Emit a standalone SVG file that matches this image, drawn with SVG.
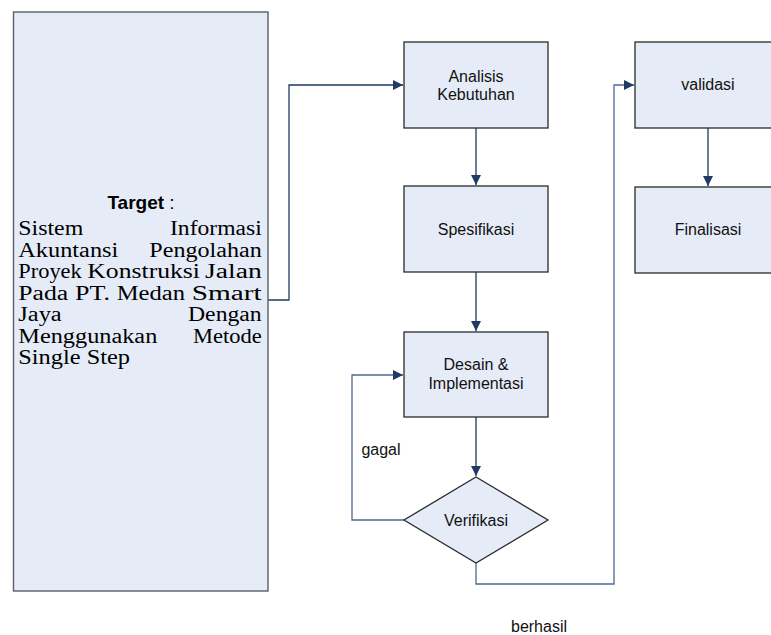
<svg xmlns="http://www.w3.org/2000/svg" width="771" height="635" viewBox="0 0 771 635">
<style>
.box{fill:#E6ECF7;stroke:#2a2a2a;stroke-width:1.3}
.tbox{fill:#E6ECF7;stroke:#5a5e66;stroke-width:1.4}
.lbl{font-family:"Liberation Sans",Arial,sans-serif;font-size:16px;fill:#111;text-anchor:middle}
.tr{font-family:"Liberation Serif","Times New Roman",serif;font-size:20.5px;fill:#000}
.c{fill:none;stroke:#1F3A64;stroke-width:1.3}
.c2{fill:none;stroke:#4D6A94;stroke-width:1.3}
</style>
<defs>
<marker id="ah" viewBox="0 0 10 10" refX="10" refY="5" markerWidth="10" markerHeight="10" markerUnits="userSpaceOnUse" orient="auto">
<path d="M0,0 L10,5 L0,10 z" fill="#1F3A64"/>
</marker>
</defs>
<rect width="771" height="635" fill="#fff"/>
<g id="connectors">
<polyline class="c" points="268,300 289,300 289,85 403,85" marker-end="url(#ah)"/>
<line class="c" x1="476" y1="128" x2="476" y2="185" marker-end="url(#ah)"/>
<line class="c" x1="476" y1="272" x2="476" y2="331" marker-end="url(#ah)"/>
<line class="c" x1="476" y1="417" x2="476" y2="476" marker-end="url(#ah)"/>
<polyline class="c2" points="404,520 352,520 352,375 403,375" marker-end="url(#ah)"/>
<polyline class="c2" points="476,563 476,584 614,584 614,85 634,85" marker-end="url(#ah)"/>
<line class="c" x1="708" y1="128" x2="708" y2="186" marker-end="url(#ah)"/>
<text class="lbl" x="381" y="455">gagal</text>
<text class="lbl" x="539" y="632">berhasil</text>
</g>
<g id="target">
<rect class="tbox" x="13.5" y="12" width="254.5" height="579"/>
<text x="141" y="209" font-family="Liberation Sans,Arial,sans-serif" font-size="19" text-anchor="middle" fill="#000"><tspan font-weight="bold">Target</tspan> :</text>
<text class="tr" x="18.3" y="235" textLength="65" lengthAdjust="spacingAndGlyphs">Sistem</text>
<text class="tr" x="170" y="235" textLength="91.7" lengthAdjust="spacingAndGlyphs">Informasi</text>
<text class="tr" x="18.3" y="257" textLength="100" lengthAdjust="spacingAndGlyphs">Akuntansi</text>
<text class="tr" x="149.3" y="257" textLength="112.4" lengthAdjust="spacingAndGlyphs">Pengolahan</text>
<text class="tr" x="18.3" y="278" textLength="63.4" lengthAdjust="spacingAndGlyphs">Proyek</text>
<text class="tr" x="87.3" y="278" textLength="112.7" lengthAdjust="spacingAndGlyphs">Konstruksi</text>
<text class="tr" x="205" y="278" textLength="56.7" lengthAdjust="spacingAndGlyphs">Jalan</text>
<text class="tr" x="18.3" y="300" textLength="50" lengthAdjust="spacingAndGlyphs">Pada</text>
<text class="tr" x="75" y="300" textLength="35" lengthAdjust="spacingAndGlyphs">PT.</text>
<text class="tr" x="116.7" y="300" textLength="68.3" lengthAdjust="spacingAndGlyphs">Medan</text>
<text class="tr" x="191.7" y="300" textLength="70" lengthAdjust="spacingAndGlyphs">Smart</text>
<text class="tr" x="18.3" y="321" textLength="43.4" lengthAdjust="spacingAndGlyphs">Jaya</text>
<text class="tr" x="188" y="321" textLength="73.7" lengthAdjust="spacingAndGlyphs">Dengan</text>
<text class="tr" x="18.3" y="343" textLength="139" lengthAdjust="spacingAndGlyphs">Menggunakan</text>
<text class="tr" x="193" y="343" textLength="68.7" lengthAdjust="spacingAndGlyphs">Metode</text>
<text class="tr" x="18.3" y="364" textLength="111.7" lengthAdjust="spacingAndGlyphs">Single Step</text>
</g>
<g id="analisis">
<rect class="box" x="404" y="42" width="144" height="86"/>
<text class="lbl" x="476" y="81.7">Analisis</text>
<text class="lbl" x="476" y="100">Kebutuhan</text>
</g>
<g id="spesifikasi">
<rect class="box" x="404" y="186" width="144" height="86"/>
<text class="lbl" x="476" y="234.5">Spesifikasi</text>
</g>
<g id="desain">
<rect class="box" x="404" y="332" width="144" height="85"/>
<text class="lbl" x="476" y="370">Desain &amp;</text>
<text class="lbl" x="476" y="389.3">Implementasi</text>
</g>
<g id="verifikasi">
<polygon class="box" points="476,477 548,520 476,563 404,520"/>
<text class="lbl" x="476" y="525.5">Verifikasi</text>
</g>
<g id="validasi">
<rect class="box" x="635" y="42" width="144" height="86"/>
<text class="lbl" x="708" y="90">validasi</text>
</g>
<g id="finalisasi">
<rect class="box" x="635" y="187" width="144" height="86"/>
<text class="lbl" x="708" y="235">Finalisasi</text>
</g>
</svg>
